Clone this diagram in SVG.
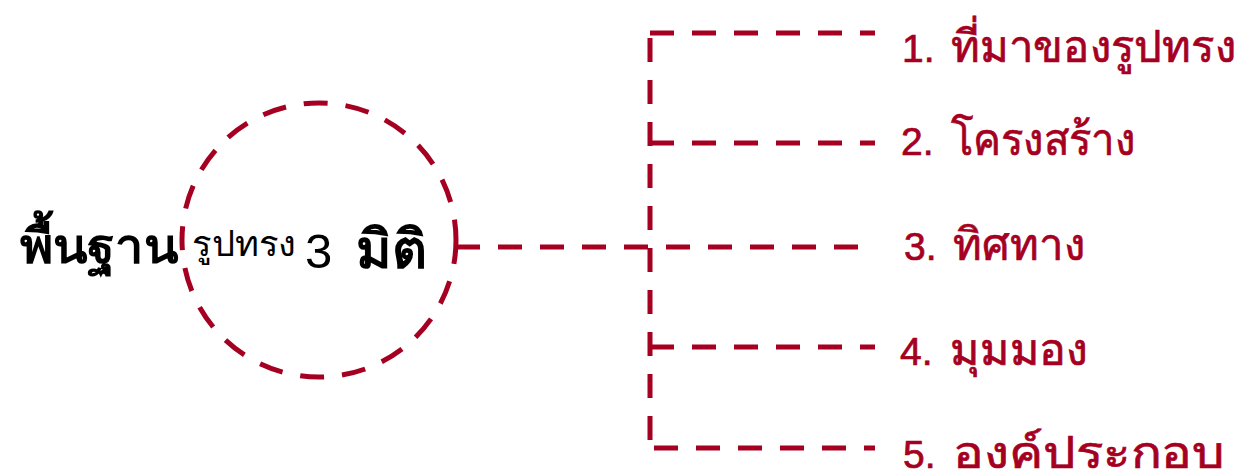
<svg xmlns="http://www.w3.org/2000/svg" width="1250" height="475" viewBox="0 0 1250 475">
<style>
.ln{fill:none;stroke:#A50021;stroke-width:5;stroke-dasharray:24 18}
.lbl{font-family:"Liberation Sans","Noto Sans",sans-serif;font-size:39px;fill:#A50021;stroke:#A50021;stroke-width:0.7}
.th{font-size:45px}
.blk{font-family:"Liberation Sans","Noto Sans",sans-serif;fill:#000}
</style>
<rect width="1250" height="475" fill="#fff"/>
<g id="center">
<circle cx="319" cy="240" r="137" class="ln" stroke-dasharray="24 20"/>
<text x="20" y="263" class="blk" font-size="49" font-weight="bold" textLength="158" lengthAdjust="spacingAndGlyphs">พื้นฐาน</text>
<text x="192" y="256" class="blk" font-size="35" textLength="104" lengthAdjust="spacingAndGlyphs">รูปทรง</text>
<text x="305" y="268" class="blk" font-size="49">3</text>
<text x="356" y="268" class="blk" font-size="54" font-weight="bold">มิติ</text>
</g>
<g id="connectors">
<path class="ln" d="M650 33 H875"/>
<path class="ln" d="M650 38 V440"/>
<path class="ln" d="M650 143 H875"/>
<path class="ln" d="M456 247 H875"/>
<path class="ln" d="M650 347 H875"/>
<path class="ln" d="M654 448 H875"/>
</g>
<g id="n1"><text x="902" y="62" class="lbl">1.</text><text x="951" y="62" class="lbl th" textLength="285" lengthAdjust="spacingAndGlyphs">ที่มาของรูปทรง</text></g>
<g id="n2"><text x="901" y="155" class="lbl">2.</text><text x="951" y="155" class="lbl th" textLength="184" lengthAdjust="spacingAndGlyphs">โครงสร้าง</text></g>
<g id="n3"><text x="904" y="260" class="lbl">3.</text><text x="953" y="260" class="lbl th" textLength="132" lengthAdjust="spacingAndGlyphs">ทิศทาง</text></g>
<g id="n4"><text x="900" y="365" class="lbl">4.</text><text x="950" y="365" class="lbl th" textLength="138" lengthAdjust="spacingAndGlyphs">มุมมอง</text></g>
<g id="n5"><text x="903" y="468" class="lbl">5.</text><text x="953" y="468" class="lbl th" textLength="272" lengthAdjust="spacingAndGlyphs">องค์ประกอบ</text></g>
</svg>
